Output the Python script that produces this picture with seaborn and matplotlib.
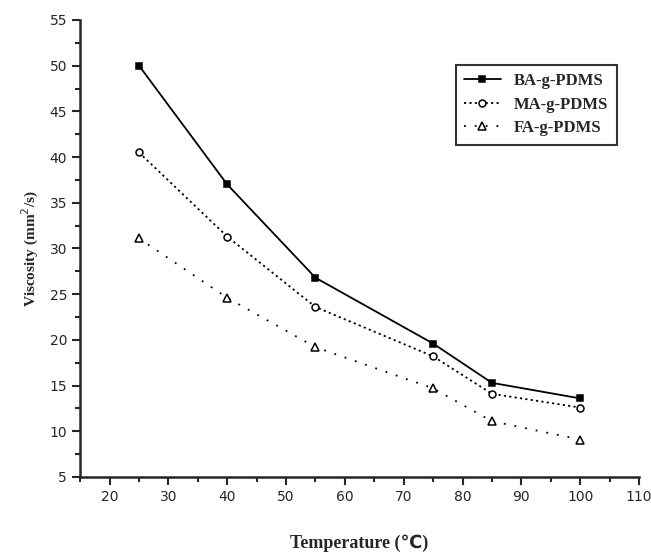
import numpy as np
import pandas as pd
import matplotlib
matplotlib.use("Agg")
import matplotlib.pyplot as plt
import seaborn as sns
from matplotlib.ticker import MultipleLocator

sns.set_style("ticks")

# values
temperature = [25, 40, 55, 75, 85, 100]
ba_visc = [50.0, 37.0, 26.8, 19.6, 15.3, 13.6]
ma_visc = [40.5, 31.3, 23.6, 18.2, 14.1, 12.6]
fa_visc = [31.1, 24.6, 19.2, 14.7, 11.1, 9.1]
series_names = ["BA-g-PDMS", "MA-g-PDMS", "FA-g-PDMS"]

df = pd.DataFrame({
    "Temperature": temperature * 3,
    "Viscosity": ba_visc + ma_visc + fa_visc,
    "Sample": np.repeat(series_names, len(temperature)),
})

fig = plt.figure(figsize=(6.52, 5.54), dpi=100)
ax = fig.add_axes([0.123, 0.139, 0.857, 0.825])

styles = {
    "BA-g-PDMS": dict(ls="-", marker="s", mfc="black", ms=5),
    "MA-g-PDMS": dict(ls=(0, (1.2, 1.8)), marker="o", mfc="white", ms=5),
    "FA-g-PDMS": dict(ls=(0, (1, 5)), marker="^", mfc="white", ms=6),
}
for name in series_names:
    sub = df[df["Sample"] == name]
    st = styles[name]
    sns.lineplot(data=sub, x="Temperature", y="Viscosity", ax=ax,
                 color="black", linestyle=st["ls"], marker=st["marker"],
                 markersize=st["ms"], markerfacecolor=st["mfc"],
                 markeredgecolor="black", markeredgewidth=1.1,
                 linewidth=1.3, label=name)

ax.set_xlim(15, 110)
ax.set_ylim(5, 55)
ax.xaxis.set_major_locator(MultipleLocator(10))
ax.xaxis.set_minor_locator(MultipleLocator(5))
ax.yaxis.set_major_locator(MultipleLocator(5))
ax.yaxis.set_minor_locator(MultipleLocator(2.5))
ax.tick_params(which="major", direction="out", length=6, width=1.5, labelsize=10)
ax.tick_params(which="minor", direction="out", length=3.5, width=1.5)
ax.set_xticks(range(20, 111, 10))
for s in ["top", "right"]:
    ax.spines[s].set_visible(False)
for s in ["left", "bottom"]:
    ax.spines[s].set_linewidth(1.8)

serif = ["Liberation Serif", "DejaVu Sans"]
ax.set_xlabel("Temperature (\u2103)", fontsize=13, fontweight="bold",
              family=serif, labelpad=22)
ax.set_ylabel("Viscosity (mm$^2$/s)", fontsize=11, fontweight="bold",
              family=serif, labelpad=6)

leg = ax.legend(loc="upper right", bbox_to_anchor=(0.975, 0.92), frameon=True,
                fancybox=False, shadow=False, edgecolor="black",
                prop={"family": "Liberation Serif", "weight": "bold", "size": 12},
                handlelength=2.2, borderpad=0.5, labelspacing=0.45)
leg.get_frame().set_linewidth(1.5)

fig.savefig("out.png", dpi=100)
